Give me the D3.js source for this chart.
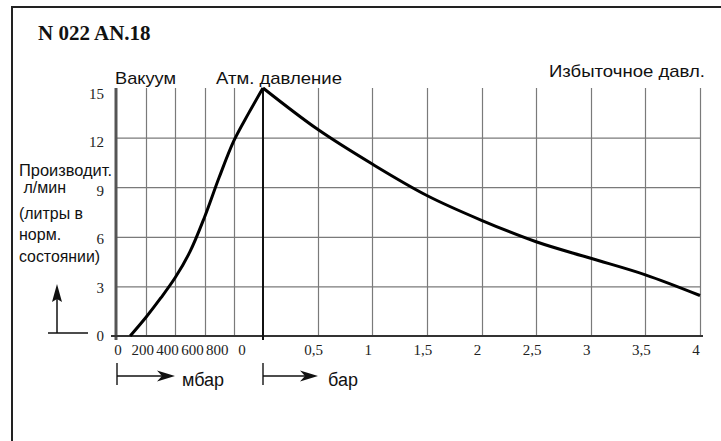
<!DOCTYPE html>
<html><head><meta charset="utf-8">
<script src="https://cdn.jsdelivr.net/npm/d3@7"></script>
<style>
html,body{margin:0;padding:0;background:#fff;}
svg{display:block;}
</style></head>
<body>
<svg id="c" width="721" height="441"></svg>
<script>
// ---- data ----
const title = "N 022 AN.18";
const vacMbar = [90, 200, 300, 400, 500, 600, 700, 800, 900, 1000];
const vacFlow = [0, 1.15, 2.3, 3.55, 5.1, 7.2, 9.6, 11.8, 13.45, 15];
const barPressure = [0, 0.5, 1, 1.5, 2, 2.5, 3, 3.5, 4];
const barFlow = [15, 12.5, 10.4, 8.5, 7.0, 5.7, 4.7, 3.7, 2.45];
const yTicks = [0, 3, 6, 9, 12, 15];
const vacTickValues = [0, 200, 400, 600, 800, 1000];
const vacTickLabels = ["0", "200", "400", "600", "800", "0"];
const barTickValues = [0.5, 1, 1.5, 2, 2.5, 3, 3.5, 4];
const barTickLabels = ["0,5", "1", "1,5", "2", "2,5", "3", "3,5", "4"];
const regionLabels = ["Вакуум", "Атм. давление", "Избыточное давл."];
const yTitleLines = ["Производит.", " л/мин", "", "(литры в", "норм.", "состоянии)"];
const unitLabels = ["мбар", "бар"];

const svg = d3.select("#c");
const serif = "'Liberation Serif','Times New Roman',serif";
const sans = "'Liberation Sans',Arial,sans-serif";

// scales
const xVac = d3.scaleLinear().domain([0, 1000]).range([117, 263]);
const xBar = d3.scaleLinear().domain([0, 4]).range([263, 700]);
const y = d3.scaleLinear().domain([0, 15]).range([336, 88]);
const yLab = d3.scaleLinear().domain([0, 15]).range([341, 99]);
const vacLab = d3.scalePoint().domain(vacTickLabels.map((d,i)=>i)).range([118, 242]);

// outer frame (extends past right/bottom edge)
svg.append("rect").attr("x", 12).attr("y", 7).attr("width", 760).attr("height", 480)
  .attr("fill", "none").attr("stroke", "#222").attr("stroke-width", 2);

// title
svg.append("text").attr("x", 38).attr("y", 40).text(title)
  .attr("font-family", serif).attr("font-weight", "bold").attr("font-size", 21).attr("fill", "#111");

const grid = svg.append("g").attr("stroke", "#7a7a7a").attr("stroke-width", 1.2);
// horizontal gridlines
grid.selectAll("line.h").data(yTicks.filter(d => d > 0 && d < 15)).join("line")
  .attr("x1", xVac(0)).attr("x2", xBar(4))
  .attr("y1", d => y(d) + 0.5).attr("y2", d => y(d) + 0.5);
// vertical gridlines vacuum
grid.selectAll("line.vv").data(vacTickValues.slice(1, -1)).join("line").attr("class","vv")
  .attr("x1", d => Math.round(xVac(d)) + 0.5).attr("x2", d => Math.round(xVac(d)) + 0.5)
  .attr("y1", y(15)).attr("y2", y(0));
// vertical gridlines bar
grid.selectAll("line.vb").data(barTickValues).join("line").attr("class","vb")
  .attr("x1", d => Math.round(xBar(d)) + 0.5).attr("x2", d => Math.round(xBar(d)) + 0.5)
  .attr("y1", y(15)).attr("y2", y(0));

// axes lines
svg.append("line").attr("x1", xVac(0) - 1).attr("x2", xVac(0) - 1).attr("y1", y(15)).attr("y2", y(0) + 4)
  .attr("stroke", "#555").attr("stroke-width", 3);
svg.append("line").attr("x1", xVac(0) - 6).attr("x2", xBar(4) + 3).attr("y1", y(0)).attr("y2", y(0))
  .attr("stroke", "#333").attr("stroke-width", 2);
svg.append("line").attr("x1", xBar(0)).attr("x2", xBar(0)).attr("y1", y(15)).attr("y2", y(0) + 4)
  .attr("stroke", "#111").attr("stroke-width", 2);

// y tick labels
svg.append("g").selectAll("text").data(yTicks).join("text")
  .attr("x", 104).attr("y", d => yLab(d)).attr("text-anchor", "end")
  .attr("font-family", serif).attr("font-size", 15).attr("fill", "#222").text(d => d);

// x tick labels
svg.append("g").selectAll("text").data(vacTickLabels).join("text")
  .attr("x", (d, i) => vacLab(i)).attr("y", 355).attr("text-anchor", "middle")
  .attr("font-family", serif).attr("font-size", 15).attr("fill", "#222").text(d => d);
svg.append("g").selectAll("text").data(barTickValues).join("text")
  .attr("x", d => xBar(d) - 4).attr("y", 355).attr("text-anchor", "middle")
  .attr("font-family", serif).attr("font-size", 15).attr("fill", "#222").text((d, i) => barTickLabels[i]);

// curves
const lineVac = d3.line().x((d, i) => xVac(vacMbar[i])).y(d => y(d)).curve(d3.curveCatmullRom.alpha(0.5));
const lineBar = d3.line().x((d, i) => xBar(barPressure[i])).y(d => y(d)).curve(d3.curveCatmullRom.alpha(0.5));
svg.append("path").attr("d", lineVac(vacFlow)).attr("fill", "none").attr("stroke", "#000")
  .attr("stroke-width", 3).attr("stroke-linejoin", "miter");
svg.append("path").attr("d", lineBar(barFlow)).attr("fill", "none").attr("stroke", "#000")
  .attr("stroke-width", 3).attr("stroke-linejoin", "miter");

// region labels
const rl = svg.append("g").attr("font-family", sans).attr("font-size", 17).attr("fill", "#111");
rl.append("text").attr("x", 115).attr("y", 84).text(regionLabels[0]).attr("textLength", 61).attr("lengthAdjust", "spacingAndGlyphs");
rl.append("text").attr("x", 216).attr("y", 84).text(regionLabels[1]).attr("textLength", 126).attr("lengthAdjust", "spacingAndGlyphs");
rl.append("text").attr("x", 549).attr("y", 77).text(regionLabels[2]).attr("textLength", 156).attr("lengthAdjust", "spacingAndGlyphs");

// y title
const yt = svg.append("g").attr("font-family", sans).attr("font-size", 16).attr("fill", "#111");
const ytPos = [[19, 176, 93], [19, 193, 0], null, [19, 219, 64], [19, 240, 0], [19, 262, 81]];
yTitleLines.forEach((t, i) => {
  if (!t) return;
  const p = ytPos[i];
  const el = yt.append("text").attr("x", p[0]).attr("y", p[1]).attr("xml:space", "preserve").text(t);
  if (p[2]) el.attr("textLength", p[2]).attr("lengthAdjust", "spacingAndGlyphs");
});

// up arrow
svg.append("line").attr("x1", 48).attr("x2", 88).attr("y1", 333).attr("y2", 333).attr("stroke", "#111").attr("stroke-width", 1.5);
svg.append("line").attr("x1", 57).attr("x2", 57).attr("y1", 333).attr("y2", 296).attr("stroke", "#111").attr("stroke-width", 1.5);
svg.append("path").attr("d", "M57,284 L52,302 L57,299 L62,302 Z").attr("fill", "#111");

// unit arrows
const units = [{x0: xVac(0), x1: 175, label: unitLabels[0], lx: 182}, {x0: xBar(0), x1: 318, label: unitLabels[1], lx: 328}];
const ug = svg.append("g");
units.forEach(u => {
  ug.append("line").attr("x1", u.x0).attr("x2", u.x0).attr("y1", 363).attr("y2", 385).attr("stroke", "#222").attr("stroke-width", 1.5);
  ug.append("line").attr("x1", u.x0).attr("x2", u.x1 - 10).attr("y1", 376).attr("y2", 376).attr("stroke", "#111").attr("stroke-width", 1.5);
  ug.append("path").attr("d", `M${u.x1},376 L${u.x1 - 18},370.5 L${u.x1 - 13},376 L${u.x1 - 18},381.5 Z`).attr("fill", "#111");
  ug.append("text").attr("x", u.lx).attr("y", 386).attr("font-family", sans).attr("font-size", 18).attr("fill", "#111").text(u.label);
});
</script>
</body></html>
